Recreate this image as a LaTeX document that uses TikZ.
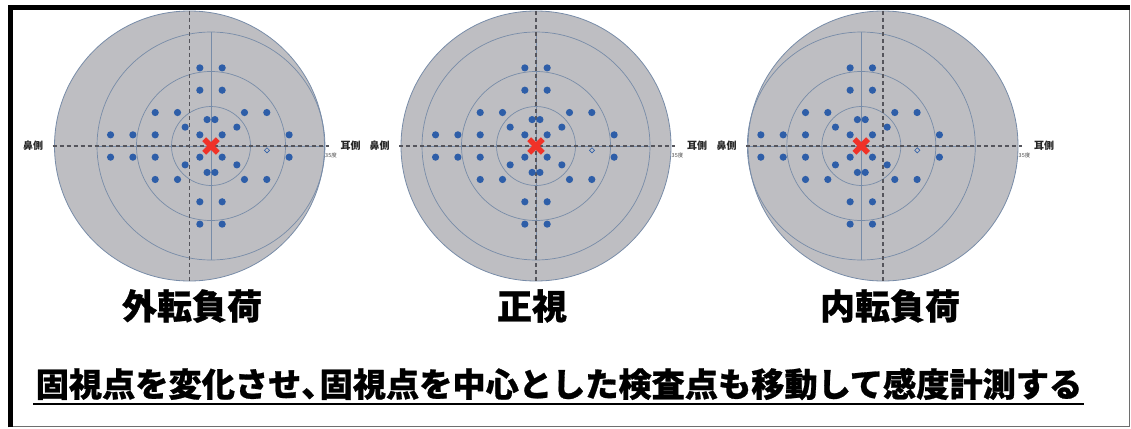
\documentclass[tikz,border=0pt]{standalone}
\usepackage{fontspec}
\newfontfamily\jp{Noto Sans CJK JP}
\newfontfamily\jph{Noto Sans CJK JP}[BoldFeatures={FakeBold=0.8}]
\definecolor{diskgray}{RGB}{190,190,194}
\definecolor{ringcol}{RGB}{120,140,168}
\definecolor{dotcol}{RGB}{46,94,168}
\definecolor{fixred}{RGB}{240,50,40}
\definecolor{dashcol}{RGB}{85,85,92}
\definecolor{framegray}{RGB}{110,110,110}
\tikzset{
  ringline/.style={draw=ringcol,line width=0.7pt},
  axisdash/.style={draw=dashcol,line width=1.1pt,dash pattern=on 4pt off 3pt},
  sidelab/.style={font=\jp\bfseries\fontsize{10}{10}\selectfont,text=black!85,inner sep=0pt},
  deglab/.style={font=\jp\fontsize{5.5}{5.5}\selectfont,text=black!70,inner sep=0pt},
  titlelab/.style={font=\jph\bfseries\fontsize{35}{35}\selectfont,inner sep=0pt},
  sentlab/.style={font=\jph\bfseries\fontsize{33.2}{33.2}\selectfont,inner sep=0pt}
}
\newcommand{\vfchart}[3]{%
  % #1 disk centre x, #2 fixation x, #3 name prefix
  \fill[diskgray] (#1,146) circle[radius=135pt];
  \draw[ringcol,line width=0.8pt] (#1,146) circle[radius=135pt];
  \foreach \r in {39.5,74.5,114} \draw[ringline] (#2,146) circle[radius=\r pt];
  \draw[ringline] (#2,32) -- (#2,260);
  \draw[ringline] ({#2-114},146) -- ({#2+114},146);
  \draw[axisdash] (#1,11) -- (#1,281);
  \draw[axisdash] ({#1-137},146) -- ({#1+139},146);
  \foreach \dx/\dy in {-3/-21,3/-21,-3/-15,3/-15,
      -15/-9,-9/-9,9/-9,15/-9,-1.05/-7.1,1.05/-7.1,-6.95/-5.07,6.95/-5.07,
      -27/-3,-21/-3,-15/-3,-3/-3,3/-3,21/-3,
      -3/21,3/21,-3/15,3/15,
      -15/9,-9/9,9/9,15/9,-1.05/7.1,1.05/7.1,-6.95/5.07,6.95/5.07,
      -27/3,-21/3,-15/3,-3/3,3/3,21/3}
    \fill[dotcol] ({#2+3.72*\dx},{146+3.72*\dy}) circle[radius=3.6pt];
  \draw[dotcol,line width=0.6pt] ({#2+56},150.3) +(-2.6,0) -- +(0,-2.6) -- +(2.6,0) -- +(0,2.6) -- cycle;
  \draw[fixred,line width=5.4pt] ({#2-6.8},139.2) -- ({#2+6.8},152.8);
  \draw[fixred,line width=5.4pt] ({#2-6.8},152.8) -- ({#2+6.8},139.2);
  \node[sidelab] (#3nasal) at ({#1-156.5},146) {鼻側};
  \node[sidelab] (#3temporal) at ({#1+161},146) {耳側};
  \node[deglab] (#3deg) at ({#1+141.5},155) {35度};
}
\begin{document}
\begin{tikzpicture}[x=1pt,y=-1pt]
\useasboundingbox (0,0) rectangle (1131,428);
\fill[white] (0,0) rectangle (1131,428);
% frame
\draw[framegray,line width=1.4pt] (10,8) rectangle (1129.6,426.7);
\draw[black,line width=5pt,line join=miter] (10,427.4) -- (10,8) -- (1130.3,8);
% charts
\vfchart{189.5}{211}{a}
\vfchart{536}{536}{b}
\vfchart{883}{861.3}{c}
% titles
\node[titlelab] (t1) at (192,306) {外転負荷};
\node[titlelab] (t2) at (532,306) {正視};
\node[titlelab] (t3) at (890,306) {内転負荷};
% sentence
\node[sentlab] (s) at (559,384) {固視点を変化させ、\kern-0.45em固視点を中心とした検査点も移動して感度計測する};
\coordinate (ul1) at (33,403.5);
\coordinate (ul2) at (1084,403.5);
\draw[black,line width=2pt] (ul1) -- (ul2);
\end{tikzpicture}
\end{document}
